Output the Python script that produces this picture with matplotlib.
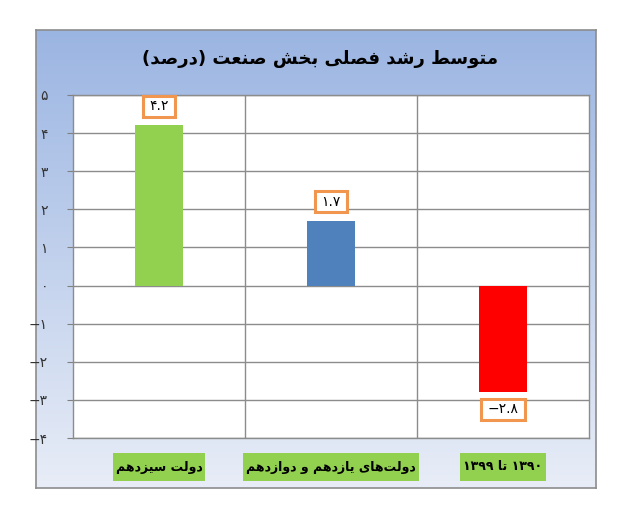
import numpy as np
import matplotlib
matplotlib.use("Agg")
import matplotlib.pyplot as plt
from matplotlib.patches import Rectangle

# ---------------- data ----------------
categories = ['دولت سیزدهم', 'دولت‌های یازدهم و دوازدهم', '۱۳۹۰ تا ۱۳۹۹']
values = [4.2, 1.7, -2.8]
value_labels = ['۴.۲', '۱.۷', '−۲.۸']
bar_colors = ['#92D050', '#4F81BD', '#FF0000']
title = 'متوسط رشد فصلی بخش صنعت (درصد)'
yticks = [5, 4, 3, 2, 1, 0, -1, -2, -3, -4]
ytick_labels = ['۵', '۴', '۳', '۲', '۱', '۰', '−۱', '−۲', '−۳', '−۴']

# ---------------- simple Arabic/Persian shaping ----------------
FORMS = {
    'ا': ('\uFE8D', '\uFE8E', None, None),
    'ب': ('\uFE8F', '\uFE90', '\uFE91', '\uFE92'),
    'ت': ('\uFE95', '\uFE96', '\uFE97', '\uFE98'),
    'خ': ('\uFEA5', '\uFEA6', '\uFEA7', '\uFEA8'),
    'د': ('\uFEA9', '\uFEAA', None, None),
    'ر': ('\uFEAD', '\uFEAE', None, None),
    'ز': ('\uFEAF', '\uFEB0', None, None),
    'س': ('\uFEB1', '\uFEB2', '\uFEB3', '\uFEB4'),
    'ش': ('\uFEB5', '\uFEB6', '\uFEB7', '\uFEB8'),
    'ص': ('\uFEB9', '\uFEBA', '\uFEBB', '\uFEBC'),
    'ط': ('\uFEC1', '\uFEC2', '\uFEC3', '\uFEC4'),
    'ع': ('\uFEC9', '\uFECA', '\uFECB', '\uFECC'),
    'ف': ('\uFED1', '\uFED2', '\uFED3', '\uFED4'),
    'ل': ('\uFEDD', '\uFEDE', '\uFEDF', '\uFEE0'),
    'م': ('\uFEE1', '\uFEE2', '\uFEE3', '\uFEE4'),
    'ن': ('\uFEE5', '\uFEE6', '\uFEE7', '\uFEE8'),
    'ه': ('\uFEE9', '\uFEEA', '\uFEEB', '\uFEEC'),
    'و': ('\uFEED', '\uFEEE', None, None),
    'ی': ('\uFEEF', '\uFEF0', '\uFEF3', '\uFEF4'),
}
DIGITS = set('۰۱۲۳۴۵۶۷۸۹0123456789.')
MIRROR = {'(': ')', ')': '('}


def shape(text):
    chars = list(text)
    out = []
    for i, c in enumerate(chars):
        if c not in FORMS:
            if c != '\u200c':
                out.append(c)
            continue
        prev = chars[i - 1] if i > 0 else None
        nxt = chars[i + 1] if i + 1 < len(chars) else None
        jp = prev in FORMS and FORMS[prev][2] is not None
        jn = nxt in FORMS and FORMS[c][2] is not None
        iso, fin, ini, med = FORMS[c]
        if jp and jn:
            f = med
        elif jp:
            f = fin
        elif jn:
            f = ini
        else:
            f = iso
        out.append(f)
    runs = []
    for c in out:
        isd = c in DIGITS
        if runs and runs[-1][0] == isd:
            runs[-1][1].append(c)
        else:
            runs.append([isd, [c]])
    vis = []
    for isd, r in reversed(runs):
        if isd:
            vis.extend(r)
        else:
            vis.extend(MIRROR.get(ch, ch) for ch in reversed(r))
    return ''.join(vis)


plt.rcParams['font.family'] = ['DejaVu Sans']

W, H = 633, 509
fig = plt.figure(figsize=(W / 100, H / 100), dpi=100)
fig.patch.set_facecolor('white')


def fx(px):
    return px / W


def fy(py):
    return 1 - py / H


# chart frame with gradient
fl, ft, fr, fb = 36, 30, 596, 488
bg = fig.add_axes([fx(fl), fy(fb), fx(fr - fl), fy(ft) - fy(fb)])
top_c = np.array([0x9B, 0xB5, 0xE2]) / 255
bot_c = np.array([0xE8, 0xED, 0xF7]) / 255
t = np.linspace(0, 1, 256)[:, None]
grad = top_c[None, :] * (1 - t[..., None]) + bot_c[None, :] * t[..., None]
grad = np.repeat(grad, 2, axis=1)
bg.imshow(grad, aspect='auto', extent=[0, 1, 0, 1], origin='upper')
bg.set_xlim(0, 1)
bg.set_ylim(0, 1)
bg.set_xticks([])
bg.set_yticks([])
for s in bg.spines.values():
    s.set_color('#8C8C8C')
    s.set_linewidth(1.2)

# title
fig.text(fx(320), fy(59), shape(title), ha='center', va='center',
         fontsize=13, fontweight='bold', color='black')

# plot area
pl, pt, pr, pb = 73, 95, 589, 438
ax = fig.add_axes([fx(pl), fy(pb), fx(pr - pl), fy(pt) - fy(pb)])
ax.set_facecolor('white')
x = np.arange(len(categories))
ax.bar(x, values, width=0.28, color=bar_colors, zorder=3)
ax.set_xlim(-0.5, len(categories) - 0.5)
ax.set_ylim(-4, 5)
ax.set_yticks(yticks)
ax.set_yticklabels(ytick_labels, fontsize=10, color='#333333')
ax.tick_params(axis='y', length=4, color='#808080', pad=14)
ax.set_xticks([])
ax.grid(axis='y', color='#8C8C8C', linewidth=1, zorder=0)
for b in np.arange(0.5, len(categories) - 0.5, 1):
    ax.axvline(b, color='#8C8C8C', linewidth=1, zorder=0)
for s in ax.spines.values():
    s.set_color('#8C8C8C')
    s.set_linewidth(1)

renderer = fig.canvas.get_renderer()


def boxed(txt, padx, pady, fc, ec, lw, minh=None):
    bb = txt.get_window_extent(renderer)
    h = bb.height + 2 * pady
    if minh is not None:
        h = max(h, minh)
    cy = (bb.y0 + bb.y1) / 2
    rect = Rectangle((bb.x0 - padx, cy - h / 2), bb.width + 2 * padx, h,
                     transform=None, facecolor=fc, edgecolor=ec, linewidth=lw,
                     zorder=5)
    fig.add_artist(rect)


# value labels (figure-level so the box sits above the axes and below the text)
for xi, v, lab in zip(x, values, value_labels):
    px, py = ax.transData.transform((xi, v))
    py = py + (19 if v >= 0 else -17)
    tx = fig.text(px / W, py / H, lab, ha='center', va='center',
                  fontsize=10, color='black', zorder=6)
    boxed(tx, 6, 3.5, 'white', '#F0964F', 2.2, minh=19)

# category labels
for xi, cat in zip(x, categories):
    xd = ax.transData.transform((xi, 0))[0]
    tx = fig.text(xd / W, fy(467), shape(cat), ha='center', va='center',
                  fontsize=9, fontweight='bold', color='black', zorder=6)
    boxed(tx, 3, 0, '#92D050', 'none', 0, minh=28)

fig.savefig('out.png', dpi=100)
